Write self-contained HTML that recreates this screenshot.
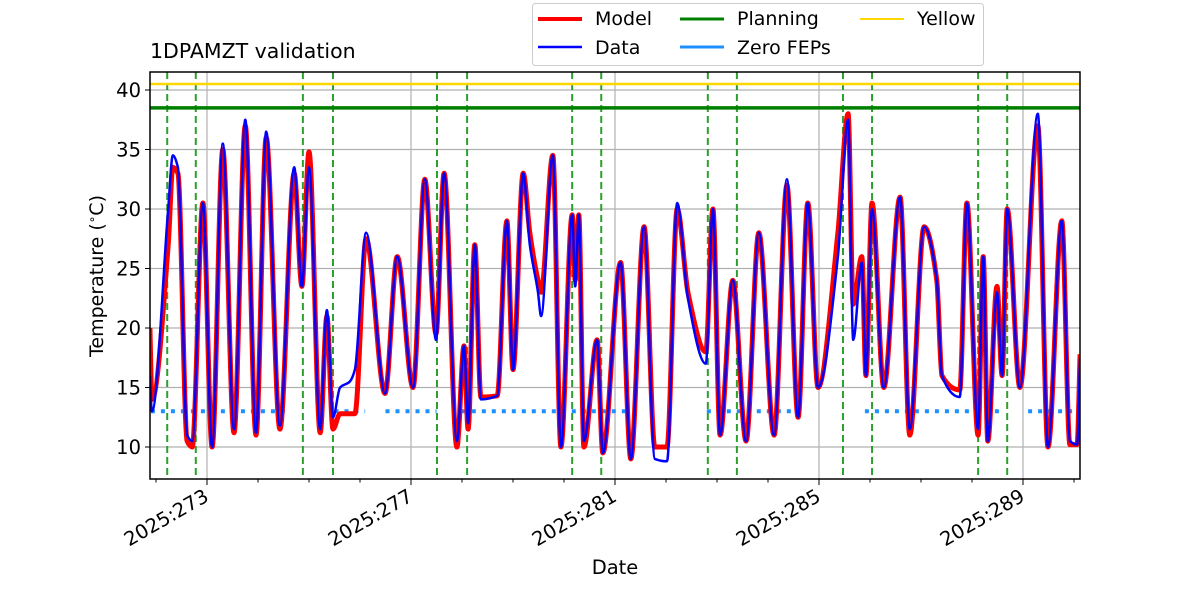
<!DOCTYPE html>
<html><head><meta charset="utf-8">
<style>
body{margin:0;background:#fff;}
svg{display:block;font-family:"DejaVu Sans","Liberation Sans",sans-serif;}
</style></head>
<body>
<svg id="chart" width="1200" height="600" viewBox="0 0 1200 600" xmlns="http://www.w3.org/2000/svg">
<text x="150" y="58" font-size="20.5">1DPAMZT validation</text>
<text x="615" y="574" font-size="19.5" text-anchor="middle">Date</text>
<text transform="translate(103,276) rotate(-90)" font-size="19" text-anchor="middle">Temperature (<tspan baseline-shift="super" font-size="12">∘</tspan>C)</text>
<g id="grid"></g><g id="marks"></g><g id="axes"></g>
<g font-size="19">
<rect x="532.5" y="3.5" width="451" height="62" rx="3" fill="#fff" stroke="#ccc" fill-opacity="0.8"/>
<line x1="538" y1="19" x2="582" y2="19" stroke="#f00" stroke-width="4"/><text x="595" y="25">Model</text>
<line x1="538" y1="47" x2="582" y2="47" stroke="#00f" stroke-width="2.5"/><text x="595" y="54">Data</text>
<line x1="680" y1="19" x2="724" y2="19" stroke="#008000" stroke-width="3"/><text x="737" y="25">Planning</text>
<line x1="680" y1="47" x2="724" y2="47" stroke="#1e90ff" stroke-width="3"/><text x="737" y="54">Zero FEPs</text>
<line x1="860" y1="19" x2="904" y2="19" stroke="#ffd700" stroke-width="2"/><text x="917" y="25">Yellow</text>
</g>
</svg>
<script>
const days=[271.88,271.92,272.24,272.33,272.43,272.61,272.71,272.92,273.10,273.31,273.53,273.75,273.96,274.16,274.43,274.71,274.86,275.00,275.22,275.35,275.47,275.61,275.80,275.90,276.12,276.49,276.73,277.04,277.27,277.49,277.65,277.90,278.04,278.12,278.25,278.37,278.69,278.88,279.00,279.20,279.33,279.49,279.55,279.78,279.94,280.16,280.22,280.29,280.39,280.65,280.76,281.11,281.31,281.57,281.78,282.02,282.22,282.43,282.78,282.92,283.06,283.31,283.57,283.82,284.12,284.37,284.59,284.78,284.98,285.37,285.57,285.67,285.84,285.92,286.04,286.27,286.59,286.78,287.06,287.31,287.41,287.76,287.90,288.12,288.22,288.31,288.49,288.59,288.69,288.94,289.29,289.49,289.76,289.92,290.06,290.12];
const dataTemp=[16,13,30,34.5,33.5,11,10.5,30.5,10,35.5,11.5,37.5,11.2,36.5,11.8,33.5,23.5,33.5,11.5,21.5,12.5,15,15.5,16.5,28,14.5,26,15,32.5,19,33,10.5,18.5,12,27,14,14.3,29,16.5,33,27,23,21,34.5,10,29.5,23.5,29.5,10.5,19,9.5,25.5,9,28.5,9,8.8,30.5,22.5,17,30,11,24,10.5,28,11,32.5,12.5,30.5,15,26,37.5,19,25.5,16,30,15,31,11.5,28.5,24,16,14.2,30.5,11.5,26,10.5,23,16,30,15,38,10,29,10.5,10.2,17.5];
const modelTemp=[20,14,27,33.5,33,10.5,10,30.5,10,35,11.2,37,11,36,11.5,33,23.5,34.8,11.2,21,11.5,12.8,12.8,12.8,27.5,14.5,26,15,32.5,19.5,33,10,18.5,11.5,27,14.2,14.3,29,16.5,33,28,24,23,34.5,10,29.5,24,29.5,10,19,9.5,25.5,9,28.5,10,10,30,23,18,30,11,24,10.5,28,11,32,12.5,30.5,15,28,38,22,26,16,30.5,15,31,11,28.5,24,16,14.8,30.5,11,26,10.5,23.5,16,30,15,37,10,29,10.2,10.2,17.8];
const planDays=[272.22,272.78,274.88,275.47,277.51,278.10,280.16,280.73,282.82,283.39,285.47,286.04,288.12,288.69];
const fepStart=[271.9,275.5,276.5,277.8,282.8,285.9,289.1];
const fepEnd=[274.6,276.1,277.5,281.2,284.6,288.55,290.1];
const planningLimit=38.5, yellowLimit=40.5, zeroFepTemp=13;
const yTicks=[10,15,20,25,30,35,40];
const xTicks=[273,277,281,285,289];
const xTickLabels=["2025:273","2025:277","2025:281","2025:285","2025:289"];
const NS="http://www.w3.org/2000/svg";
const L=150,R=1080,T=72,B=479;
const X=d=>207+(d-273)*51;
const Y=v=>447-(v-10)*11.9;
function mk(p,tag,at){const e=document.createElementNS(NS,tag);for(const k in at)e.setAttribute(k,at[k]);document.getElementById(p).appendChild(e);return e;}
yTicks.forEach(v=>{const g=mk('grid','line',{x1:L,x2:R,y1:Y(v),y2:Y(v),stroke:'#b0b0b0','stroke-width':1.2});


const t=mk('axes','line',{x1:L-5,x2:L,y1:Y(v),y2:Y(v),stroke:'#000','stroke-width':1});


const tx=mk('axes','text',{x:L-9,y:Y(v)+7,'font-size':19.5,'text-anchor':'end'});tx.textContent=v;

});
xTicks.forEach((d,i)=>{const g=mk('grid','line',{x1:X(d),x2:X(d),y1:T,y2:B,stroke:'#b0b0b0','stroke-width':1.2});


const tx=mk('axes','text',{transform:`translate(${X(d)+3},${B+21}) rotate(-30)`,'font-size':19.5,'text-anchor':'end'});tx.textContent=xTickLabels[i];

});
for(let d=272;d<=290;d++){const major=xTicks.includes(d);const t=mk('axes','line',{x1:X(d),x2:X(d),y1:B,y2:B+(major?6:3.5),stroke:'#000','stroke-width':1});

}
planDays.forEach(d=>{const e=mk('marks','line',{x1:X(d),x2:X(d),y1:T,y2:B,stroke:'#2ca02c','stroke-width':2,'stroke-dasharray':'7,4'});

});
fepStart.forEach((s,i)=>{const e=mk('marks','line',{x1:X(s),x2:X(fepEnd[i]),y1:Y(zeroFepTemp),y2:Y(zeroFepTemp),stroke:'#1e90ff','stroke-width':4,'stroke-dasharray':'4,6'});

});
const h1=mk('marks','line',{x1:L,x2:R,y1:Y(yellowLimit),y2:Y(yellowLimit),stroke:'#ffd700','stroke-width':2.5});


const h2=mk('marks','line',{x1:L,x2:R,y1:Y(planningLimit),y2:Y(planningLimit),stroke:'#008000','stroke-width':3.5});


function monoPath(a){
  const xs=days.map(X), ys=a.map(Y), n=xs.length;
  const h=[],s=[],m=new Array(n);
  for(let i=0;i<n-1;i++){h.push(xs[i+1]-xs[i]);s.push((ys[i+1]-ys[i])/h[i]);}
  m[0]=s[0];m[n-1]=s[n-2];
  for(let i=1;i<n-1;i++){
    if(s[i-1]*s[i]<=0){m[i]=0;continue;}
    const w1=2*h[i]+h[i-1], w2=h[i]+2*h[i-1];
    m[i]=(w1+w2)/(w1/s[i-1]+w2/s[i]);
  }
  let d='M'+xs[0].toFixed(1)+','+ys[0].toFixed(1);
  for(let i=0;i<n-1;i++){const q=h[i]/3;
    d+=` C${(xs[i]+q).toFixed(1)},${(ys[i]+m[i]*q).toFixed(1)} ${(xs[i+1]-q).toFixed(1)},${(ys[i+1]-m[i+1]*q).toFixed(1)} ${xs[i+1].toFixed(1)},${ys[i+1].toFixed(1)}`;}
  return d;
}
const m=mk('marks','path',{d:monoPath(modelTemp),fill:'none',stroke:'#f00','stroke-width':5,'stroke-linejoin':'round'});


const dl=mk('marks','path',{d:monoPath(dataTemp),fill:'none',stroke:'#00f','stroke-width':2.5,'stroke-linejoin':'round'});


const fr=mk('axes','rect',{x:L,y:T,width:R-L,height:B-T,fill:'none',stroke:'#000','stroke-width':1.5});


const cp=mk('axes','clipPath',{id:'clip'});mk('clip','rect',{x:L,y:T,width:R-L,height:B-T});
document.getElementById('marks').setAttribute('clip-path','url(#clip)');
</script>
</body></html>
